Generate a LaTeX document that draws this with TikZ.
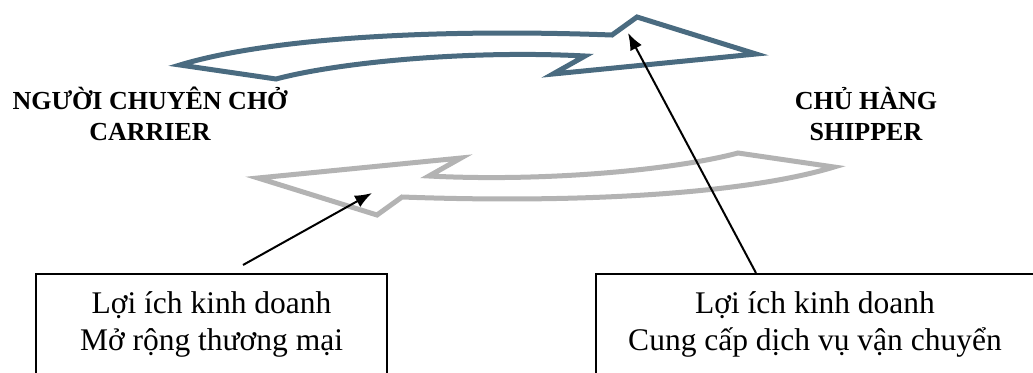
\documentclass[tikz,border=0pt]{standalone}
\usepackage{fontspec}
\setmainfont{Liberation Serif}
\usetikzlibrary{arrows.meta}
\definecolor{slateedge}{RGB}{74,107,128}
\definecolor{greyedge}{RGB}{179,179,179}
\begin{document}
% keep line distances fixed even with tall stacked accents
\setlength{\lineskiplimit}{-100pt}
\begin{tikzpicture}[x=1pt,y=-1pt,
  bandarrow/.style={line width=5pt, line join=miter, fill=white},
  party/.style={font=\fontsize{26}{31}\selectfont\bfseries,
    align=center, inner sep=0pt},
  benefit/.style={draw, line width=1.5pt,
    font=\fontsize{31.5}{37}\selectfont,
    align=center, inner xsep=0pt, anchor=north, minimum height=102.2pt},
  pointer/.style={line width=2pt, -{Latex[length=17pt,width=13pt]}},
  pics/bandshape/.style={code={
    \path[pic actions] (180,65) .. controls (262,40) and (420,28) .. (612,35)
      -- (637,17) -- (756,54) -- (553,74) -- (585,56)
      .. controls (470,50) and (340,62) .. (276,79) -- cycle;
  }}
]
\useasboundingbox (0,0) rectangle (1033,372);

% the two curved band arrows (the lower one is the upper one turned half round)
\pic[draw=slateedge, bandarrow] at (0,0) {bandshape};
\pic[draw=greyedge, bandarrow, rotate around={180:(507,116)}] at (0,0) {bandshape};

% the two parties
\node[party] (carrier) at (150,118.3) {\strut NGƯỜI CHUYÊN CHỞ\\\strut CARRIER};
\node[party] (shipper) at (866,118.3) {\strut CHỦ HÀNG\\\strut SHIPPER};

% benefit boxes
\node[benefit, minimum width=351pt] (leftbox) at (211.5,273)
  {\strut Lợi ích kinh doanh\\\strut Mở rộng thương mại};
\node[benefit, minimum width=438pt] (rightbox) at (815,273)
  {\strut Lợi ích kinh doanh\\\strut Cung cấp dịch vụ vận chuyển};

% pointers from the boxes to the band arrows
\coordinate (lefttail) at (243,265);
\coordinate (leftpoint) at (372,193);
\coordinate (righttail) at (756,273);
\coordinate (rightpoint) at (628,33);
\draw[pointer] (lefttail) -- (leftpoint);
\draw[pointer] (righttail) -- (rightpoint);
\end{tikzpicture}
\end{document}
